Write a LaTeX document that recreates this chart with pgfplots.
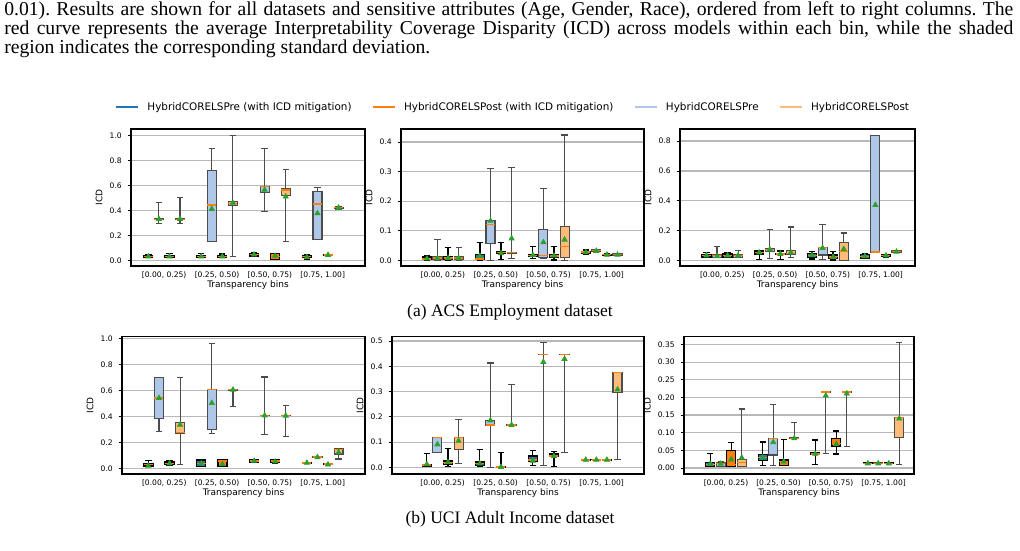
\documentclass[border=0pt]{standalone}
\usepackage{pgfplots}
\pgfplotsset{compat=1.18}
\usepgfplotslibrary{statistics}
\usepackage{fontspec}
\setmainfont{DejaVu Sans}
\newfontfamily\capfont{Liberation Serif}
\definecolor{tabblue}{HTML}{1F77B4}
\definecolor{taborange}{HTML}{FF7F0E}
\definecolor{lightblue}{HTML}{AEC7E8}
\definecolor{lightorange}{HTML}{FFBB78}
\definecolor{meangreen}{HTML}{2CA02C}
\pgfplotsset{
  panel/.style={
    scale only axis, anchor=north west,
    xtick={0,1,2,3},
    xticklabels={{[0.00, 0.25)},{[0.25, 0.50)},{[0.50, 0.75)},{[0.75, 1.00]}},
    xtick style={draw=none}, xtick align=inside,
    ytick align=outside, ytick pos=left, xtick pos=bottom,
    major tick length=2pt,
    ytick style={line width=0.5pt, black},
    ymajorgrids, grid style={draw=black!28, line width=0.7pt},
    axis line style={line width=0.75pt},
    xlabel={Transparency bins}, ylabel={ICD},
    tick label style={font=\fontsize{4.55}{5}\selectfont},
    label style={font=\fontsize{5.4}{6}\selectfont},
    xlabel style={yshift=5.5pt},
    ylabel style={yshift=-2.5pt},
    boxplot/draw direction=y,
    boxplot/box extend=0.17,
    boxplot/whisker extend=0.12,
  },
  prec1/.style={yticklabel style={/pgf/number format/.cd, fixed, fixed zerofill, precision=1, assume math mode=true}},
  prec2/.style={yticklabel style={/pgf/number format/.cd, fixed, fixed zerofill, precision=2, assume math mode=true}},
  DB/.style={draw=black, fill=tabblue, line width=0.8pt, mark=none, solid, boxplot/every median/.style={draw=taborange, line width=0.8pt}},
  LB/.style={draw=black!70, fill=lightblue, line width=0.7pt, mark=none, solid, boxplot/every median/.style={draw=taborange, line width=0.8pt}},
  DO/.style={draw=black, fill=taborange, line width=0.8pt, mark=none, solid, boxplot/every median/.style={draw=taborange, line width=0.8pt}},
  LO/.style={draw=black!70, fill=lightorange, line width=0.7pt, mark=none, solid, boxplot/every median/.style={draw=taborange, line width=0.8pt}},
}
% #1 position, #2 style, #3 lower whisker, #4 Q1, #5 median, #6 Q3, #7 upper whisker, #8 mean
\newcommand{\bx}[8]{%
  \addplot[#2, forget plot, boxplot prepared={draw position=#1, lower whisker=#3, lower quartile=#4, median=#5, upper quartile=#6, upper whisker=#7}] coordinates {};
  \addplot[only marks, forget plot, mark=triangle*, mark size=1.8pt, color=meangreen] coordinates {(#1,#8)};
}
\newcommand{\capsize}{\capfont\fontsize{11.8}{12}\selectfont}
\begin{document}
\frenchspacing
\begin{tikzpicture}
\path[use as bounding box] (0pt,0pt) rectangle (612pt,-330pt);

% caption text
\node[anchor=base west, inner sep=0pt] at (2.4pt,-9.0pt) {\capsize\makebox[605.4pt][s]{0.01). Results are shown for all datasets and sensitive attributes (Age, Gender, Race), ordered from left to right columns. The}};
\node[anchor=base west, inner sep=0pt] at (2.4pt,-20.4pt) {\capsize\makebox[605.4pt][s]{red curve represents the average Interpretability Coverage Disparity (ICD) across models within each bin, while the shaded}};
\node[anchor=base west, inner sep=0pt] at (2.4pt,-31.8pt) {\capsize region indicates the corresponding standard deviation.};

% ---------- Row 1: ACS Employment ----------
\begin{axis}[panel, prec1, at={(78.6pt,-77.4pt)}, width=140.4pt, height=82.2pt,
  xmin=-0.628, xmax=3.80, ymin=-0.046, ymax=1.05, ytick={0,0.2,0.4,0.6,0.8,1.0}]
\bx{-0.3}{DB}{0.02}{0.025}{0.03}{0.035}{0.042}{0.03}
\bx{-0.1}{LB}{0.296}{0.327}{0.328}{0.33}{0.464}{0.33}
\bx{0.1}{DO}{0.02}{0.025}{0.03}{0.037}{0.056}{0.03}
\bx{0.3}{LO}{0.296}{0.327}{0.328}{0.33}{0.504}{0.33}
\bx{0.7}{DB}{0.02}{0.025}{0.03}{0.035}{0.056}{0.03}
\bx{0.9}{LB}{0.149}{0.149}{0.443}{0.715}{0.891}{0.41}
\bx{1.1}{DO}{0.02}{0.025}{0.03}{0.035}{0.05}{0.03}
\bx{1.3}{LO}{0.032}{0.437}{0.455}{0.469}{1.0}{0.459}
\bx{1.7}{DB}{0.03}{0.035}{0.045}{0.05}{0.06}{0.045}
\bx{1.9}{LB}{0.392}{0.544}{0.59}{0.592}{0.891}{0.563}
\bx{2.1}{DO}{0.005}{0.005}{0.03}{0.053}{0.055}{0.035}
\bx{2.3}{LO}{0.149}{0.515}{0.563}{0.576}{0.725}{0.509}
\bx{2.7}{DB}{0.005}{0.02}{0.028}{0.035}{0.045}{0.025}
\bx{2.9}{LB}{0.168}{0.168}{0.451}{0.549}{0.584}{0.376}
\bx{3.1}{DO}{0.038}{0.038}{0.042}{0.046}{0.046}{0.042}
\bx{3.3}{LO}{0.41}{0.415}{0.42}{0.425}{0.43}{0.42}
\end{axis}

\begin{axis}[panel, prec1, at={(240.6pt,-77.4pt)}, width=145.8pt, height=82.2pt,
  xmin=-0.79, xmax=3.80, ymin=-0.019, ymax=0.444, ytick={0,0.1,0.2,0.3,0.4},
  legend columns=4,
  legend style={at={(0.4568,1.153)}, anchor=center, draw=none, fill=none,
    font=\fontsize{6.25}{7}\selectfont, column sep=0pt,
    nodes={inner sep=0pt, anchor=base west},
    /tikz/every odd column/.append style={column sep=4.8pt},
    /tikz/every even column/.append style={column sep=12pt}},
  legend image code/.code={\draw[#1, line width=1.5pt] (0pt,2.2pt) -- (13.2pt,2.2pt);}]
\addlegendimage{tabblue}
\addlegendentry{HybridCORELSPre (with ICD mitigation)}
\addlegendimage{taborange}
\addlegendentry{HybridCORELSPost (with ICD mitigation)}
\addlegendimage{lightblue}
\addlegendentry{HybridCORELSPre}
\addlegendimage{lightorange}
\addlegendentry{HybridCORELSPost}
\bx{-0.3}{DB}{0}{0.002}{0.005}{0.012}{0.015}{0.006}
\bx{-0.1}{LB}{0}{0.003}{0.008}{0.012}{0.071}{0.007}
\bx{0.1}{DO}{0}{0.003}{0.008}{0.013}{0.044}{0.008}
\bx{0.3}{LO}{0}{0.003}{0.008}{0.013}{0.044}{0.008}
\bx{0.7}{DB}{0}{0.003}{0.005}{0.021}{0.06}{0.015}
\bx{0.9}{LB}{0.001}{0.056}{0.122}{0.136}{0.311}{0.134}
\bx{1.1}{DO}{0.003}{0.024}{0.026}{0.028}{0.06}{0.024}
\bx{1.3}{LO}{0.007}{0.024}{0.026}{0.028}{0.313}{0.074}
\bx{1.7}{DB}{0.007}{0.015}{0.017}{0.02}{0.046}{0.018}
\bx{1.9}{LB}{0.007}{0.009}{0.017}{0.105}{0.243}{0.061}
\bx{2.1}{DO}{0.001}{0.012}{0.015}{0.018}{0.046}{0.016}
\bx{2.3}{LO}{0.001}{0.01}{0.047}{0.115}{0.424}{0.07}
\bx{2.7}{DB}{0.022}{0.025}{0.028}{0.03}{0.035}{0.027}
\bx{2.9}{LB}{0.03}{0.03}{0.033}{0.036}{0.037}{0.032}
\bx{3.1}{DO}{0.017}{0.018}{0.02}{0.021}{0.022}{0.019}
\bx{3.3}{LO}{0.017}{0.018}{0.02}{0.022}{0.022}{0.019}
\end{axis}

\begin{axis}[panel, prec1, at={(408pt,-77.4pt)}, width=141pt, height=82.2pt,
  xmin=-0.80, xmax=3.65, ymin=-0.035, ymax=0.88, ytick={0,0.2,0.4,0.6,0.8}]
\bx{-0.3}{DB}{0.02}{0.025}{0.035}{0.042}{0.053}{0.035}
\bx{-0.1}{LB}{0.02}{0.02}{0.035}{0.04}{0.094}{0.03}
\bx{0.1}{DO}{0.02}{0.02}{0.035}{0.045}{0.051}{0.035}
\bx{0.3}{LO}{0.02}{0.02}{0.035}{0.04}{0.067}{0.035}
\bx{0.7}{DB}{0.009}{0.045}{0.055}{0.065}{0.065}{0.055}
\bx{0.9}{LB}{0.016}{0.06}{0.076}{0.082}{0.207}{0.075}
\bx{1.1}{DO}{0.009}{0.04}{0.045}{0.05}{0.065}{0.045}
\bx{1.3}{LO}{0.022}{0.042}{0.05}{0.067}{0.225}{0.055}
\bx{1.7}{DB}{0.011}{0.022}{0.035}{0.049}{0.06}{0.037}
\bx{1.9}{LB}{0.011}{0.038}{0.087}{0.091}{0.243}{0.085}
\bx{2.1}{DO}{0.004}{0.016}{0.03}{0.038}{0.06}{0.025}
\bx{2.3}{LO}{0.004}{0.004}{0.06}{0.123}{0.185}{0.078}
\bx{2.7}{DB}{0.015}{0.016}{0.03}{0.042}{0.045}{0.03}
\bx{2.9}{LB}{0.055}{0.058}{0.058}{0.836}{0.836}{0.372}
\bx{3.1}{DO}{0.02}{0.032}{0.037}{0.04}{0.04}{0.035}
\bx{3.3}{LO}{0.055}{0.057}{0.06}{0.065}{0.065}{0.06}
\end{axis}

\node[inner sep=0pt] at (306pt,-187.5pt) {\capfont\fontsize{10.5}{12}\selectfont (a) ACS Employment dataset};

% ---------- Row 2: UCI Adult Income ----------
\begin{axis}[panel, prec1, at={(73.2pt,-201.9pt)}, width=145.8pt, height=82.5pt,
  xmin=-0.80, xmax=3.80, ymin=-0.041, ymax=1.018, ytick={0,0.2,0.4,0.6,0.8,1.0}]
\bx{-0.3}{DB}{0.015}{0.021}{0.03}{0.041}{0.062}{0.022}
\bx{-0.1}{LB}{0.286}{0.389}{0.544}{0.704}{0.704}{0.544}
\bx{0.1}{DO}{0.028}{0.031}{0.04}{0.052}{0.062}{0.04}
\bx{0.3}{LO}{0.034}{0.273}{0.28}{0.358}{0.704}{0.338}
\bx{0.7}{DB}{0.015}{0.015}{0.04}{0.067}{0.067}{0.04}
\bx{0.9}{LB}{0.268}{0.304}{0.608}{0.608}{0.964}{0.505}
\bx{1.1}{DO}{0.015}{0.015}{0.06}{0.067}{0.067}{0.034}
\bx{1.3}{LO}{0.479}{0.605}{0.608}{0.612}{0.612}{0.608}
\bx{1.7}{DB}{0.05}{0.052}{0.06}{0.067}{0.068}{0.06}
\bx{1.9}{LB}{0.263}{0.408}{0.41}{0.412}{0.706}{0.41}
\bx{2.1}{DO}{0.045}{0.047}{0.06}{0.068}{0.07}{0.055}
\bx{2.3}{LO}{0.247}{0.407}{0.408}{0.41}{0.485}{0.408}
\bx{2.7}{DB}{0.04}{0.04}{0.045}{0.05}{0.05}{0.045}
\bx{2.9}{LB}{0.086}{0.088}{0.09}{0.092}{0.093}{0.088}
\bx{3.1}{DO}{0.03}{0.032}{0.035}{0.037}{0.038}{0.032}
\bx{3.3}{LO}{0.075}{0.113}{0.15}{0.157}{0.157}{0.126}
\end{axis}

\begin{axis}[panel, prec1, at={(235.2pt,-201.9pt)}, width=151.2pt, height=82.5pt,
  xmin=-0.957, xmax=3.80, ymin=-0.026, ymax=0.518, ytick={0,0.1,0.2,0.3,0.4,0.5}]
\bx{-0.3}{DB}{0.003}{0.005}{0.01}{0.012}{0.055}{0.012}
\bx{-0.1}{LB}{0.058}{0.058}{0.118}{0.118}{0.118}{0.091}
\bx{0.1}{DO}{0.005}{0.012}{0.02}{0.026}{0.075}{0.02}
\bx{0.3}{LO}{0.016}{0.071}{0.118}{0.118}{0.191}{0.105}
\bx{0.7}{DB}{0.003}{0.009}{0.015}{0.022}{0.072}{0.015}
\bx{0.9}{LB}{0.001}{0.167}{0.168}{0.187}{0.413}{0.186}
\bx{1.1}{DO}{0}{0}{0.002}{0.004}{0.06}{0.002}
\bx{1.3}{LO}{0.168}{0.168}{0.168}{0.169}{0.329}{0.168}
\bx{1.7}{DB}{0.009}{0.025}{0.03}{0.045}{0.066}{0.026}
\bx{1.9}{LB}{0.009}{0.446}{0.447}{0.448}{0.493}{0.417}
\bx{2.1}{DO}{0.005}{0.042}{0.045}{0.053}{0.062}{0.045}
\bx{2.3}{LO}{0.058}{0.446}{0.447}{0.448}{0.448}{0.429}
\bx{2.7}{DB}{0.03}{0.03}{0.03}{0.031}{0.031}{0.03}
\bx{2.9}{LB}{0.03}{0.03}{0.03}{0.031}{0.031}{0.03}
\bx{3.1}{DO}{0.03}{0.03}{0.03}{0.031}{0.031}{0.03}
\bx{3.3}{LO}{0.03}{0.296}{0.375}{0.375}{0.375}{0.308}
\end{axis}

\begin{axis}[panel, prec2, at={(410.4pt,-201.9pt)}, width=138pt, height=82.5pt,
  xmin=-0.80, xmax=3.58, ymin=-0.017, ymax=0.3725, ytick={0,0.05,0.1,0.15,0.2,0.25,0.3,0.35}]
\bx{-0.3}{DB}{0.004}{0.004}{0.01}{0.015}{0.042}{0.012}
\bx{-0.1}{LB}{0.004}{0.004}{0.012}{0.016}{0.017}{0.012}
\bx{0.1}{DO}{0.004}{0.004}{0.01}{0.049}{0.072}{0.024}
\bx{0.3}{LO}{0.004}{0.004}{0.015}{0.024}{0.167}{0.029}
\bx{0.7}{DB}{0.008}{0.021}{0.03}{0.038}{0.074}{0.03}
\bx{0.9}{LB}{0.008}{0.037}{0.084}{0.084}{0.18}{0.073}
\bx{1.1}{DO}{0.008}{0.008}{0.018}{0.023}{0.081}{0.018}
\bx{1.3}{LO}{0.083}{0.083}{0.084}{0.085}{0.128}{0.084}
\bx{1.7}{DB}{0.01}{0.038}{0.04}{0.043}{0.079}{0.04}
\bx{1.9}{LB}{0.04}{0.214}{0.215}{0.216}{0.216}{0.205}
\bx{2.1}{DO}{0.04}{0.062}{0.07}{0.084}{0.105}{0.068}
\bx{2.3}{LO}{0.06}{0.214}{0.215}{0.216}{0.216}{0.211}
\bx{2.7}{DB}{0.013}{0.013}{0.013}{0.014}{0.014}{0.013}
\bx{2.9}{LB}{0.013}{0.013}{0.013}{0.014}{0.014}{0.013}
\bx{3.1}{DO}{0.013}{0.013}{0.013}{0.014}{0.014}{0.013}
\bx{3.3}{LO}{0.011}{0.087}{0.143}{0.143}{0.355}{0.14}
\end{axis}

\node[inner sep=0pt] at (306pt,-311.7pt) {\capfont\fontsize{10.5}{12}\selectfont (b) UCI Adult Income dataset};
\end{tikzpicture}
\end{document}
